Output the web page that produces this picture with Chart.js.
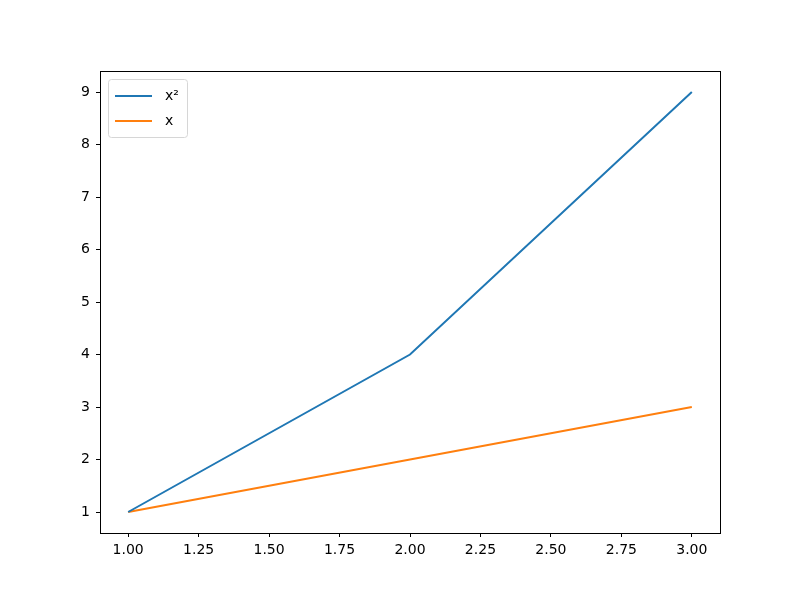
<!DOCTYPE html>
<html>
<head>
<meta charset="utf-8">
<script src="https://cdn.jsdelivr.net/npm/chart.js@4"></script>
<style>
  html, body { margin: 0; padding: 0; background: #fff; }
  #wrap { width: 800px; height: 599px; }
</style>
</head>
<body>
<div id="wrap"><canvas id="miGrafico" width="800" height="599"></canvas></div>
<script>
// data
const xVals = [1, 2, 3];
const squares = [1, 4, 9];
const linear = [1, 2, 3];
const seriesNames = ['x²', 'x'];
const xTicks = [1.00, 1.25, 1.50, 1.75, 2.00, 2.25, 2.50, 2.75, 3.00];
const yTicks = [1, 2, 3, 4, 5, 6, 7, 8, 9];

const FONT = { family: 'DejaVu Sans', size: 14 };

// full box round the plot (top and right spines too)
const frameBox = {
    id: 'frameBox',
    afterDatasetsDraw(chart) {
        const ctx = chart.ctx;
        const a = chart.chartArea;
        ctx.save();
        ctx.strokeStyle = '#000';
        ctx.lineWidth = 1;
        ctx.strokeRect(Math.round(a.left) + 0.5, Math.round(a.top) + 0.5,
            Math.round(a.right - a.left), Math.round(a.bottom - a.top));
        ctx.restore();
    }
};

// legend box drawn inside the plot, top-left like matplotlib
const insideLegend = {
    id: 'insideLegend',
    afterDraw(chart) {
        const ctx = chart.ctx;
        const a = chart.chartArea;
        const x0 = a.left + 8.5, y0 = a.top + 8.5, w = 79, h = 58;
        ctx.save();
        ctx.fillStyle = 'rgba(255,255,255,0.8)';
        ctx.strokeStyle = '#d6d6d6';
        ctx.lineWidth = 1;
        ctx.beginPath();
        ctx.roundRect(x0, y0, w, h, 3);
        ctx.fill();
        ctx.stroke();
        ctx.font = '14px "DejaVu Sans"';
        ctx.textBaseline = 'middle';
        chart.data.datasets.forEach(function(ds, i) {
            const ly = a.top + 25 + i * 25;
            ctx.strokeStyle = ds.borderColor;
            ctx.lineWidth = 2;
            ctx.beginPath();
            ctx.moveTo(a.left + 15, ly);
            ctx.lineTo(a.left + 52, ly);
            ctx.stroke();
            ctx.fillStyle = '#000';
            ctx.fillText(ds.label, a.left + 65, ly);
        });
        ctx.restore();
    }
};

function fixedTicks(list) {
    return function(scale) {
        scale.ticks = list.map(function(v) { return { value: v }; });
    };
}

const config = {
    type: 'line',
    data: {
        datasets: [
            {
                label: seriesNames[0],
                data: xVals.map(function(x, i) { return { x: x, y: squares[i] }; }),
                borderColor: '#1f77b4',
                borderWidth: 2,
                pointRadius: 0,
                tension: 0
            },
            {
                label: seriesNames[1],
                data: xVals.map(function(x, i) { return { x: x, y: linear[i] }; }),
                borderColor: '#ff7f0e',
                borderWidth: 2,
                pointRadius: 0,
                tension: 0
            }
        ]
    },
    options: {
        responsive: false,
        animation: false,
        layout: { padding: { left: 0, top: 71, right: 80, bottom: 0 } },
        plugins: {
            legend: { display: false },
            tooltip: { enabled: false }
        },
        scales: {
            x: {
                type: 'linear',
                min: 0.9,
                max: 3.1,
                afterBuildTicks: fixedTicks(xTicks),
                afterFit: function(s) { s.height = 66; },
                grid: { drawOnChartArea: false, tickLength: 4, color: '#000', tickWidth: 1 },
                border: { color: '#000', width: 1 },
                ticks: {
                    color: '#000',
                    font: FONT,
                    padding: 5,
                    maxRotation: 0,
                    autoSkip: false,
                    callback: function(v) { return v.toFixed(2); }
                }
            },
            y: {
                type: 'linear',
                min: 0.6,
                max: 9.4,
                afterBuildTicks: fixedTicks(yTicks),
                afterFit: function(s) { s.width = 100; },
                grid: { drawOnChartArea: false, tickLength: 4, color: '#000', tickWidth: 1 },
                border: { color: '#000', width: 1 },
                ticks: {
                    color: '#000',
                    font: FONT,
                    padding: 6,
                    autoSkip: false,
                    callback: function(v) { return String(v); }
                }
            }
        }
    },
    plugins: [frameBox, insideLegend]
};

const grafico = new Chart(document.getElementById('miGrafico'), config);
</script>
</body>
</html>
